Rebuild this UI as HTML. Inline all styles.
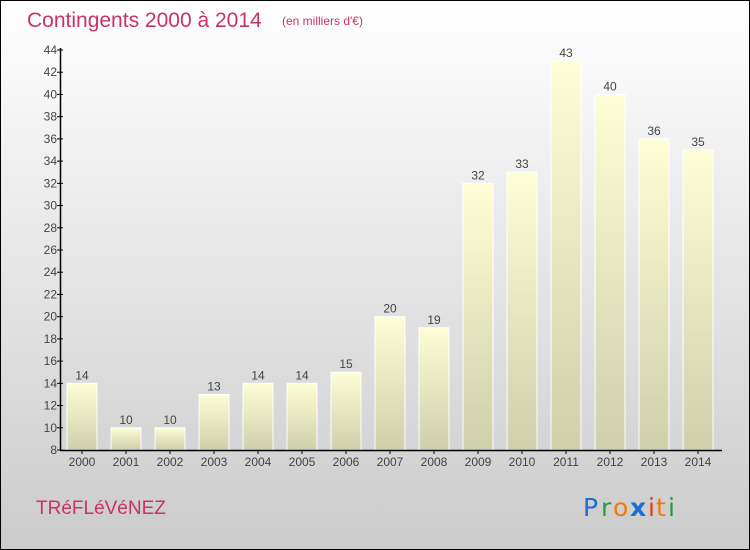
<!DOCTYPE html>
<html><head><meta charset="utf-8"><style>
body{margin:0;width:750px;height:550px;overflow:hidden}
svg{display:block;font-family:"Liberation Sans",sans-serif}
</style></head><body>
<svg width="750" height="550">
<defs>
<linearGradient id="bg" x1="0" y1="0" x2="0" y2="1"><stop offset="0" stop-color="#ffffff"/><stop offset="1" stop-color="#cbcbcb"/></linearGradient>
<linearGradient id="bar" x1="0" y1="0" x2="0" y2="1"><stop offset="0" stop-color="#fdfdd6"/><stop offset="1" stop-color="#cfcfac"/></linearGradient>
</defs>
<rect x="0.5" y="0.5" width="749" height="549" fill="url(#bg)" stroke="#000"/>
<text x="27" y="27" font-size="21" fill="#c8336a">Contingents 2000 à 2014</text>
<text x="282" y="25" font-size="12" fill="#c8336a">(en milliers d'€)</text>
<text x="36" y="514" font-size="19" fill="#c8336a">TRéFLéVéNEZ</text>
<g font-size="25" font-family="DejaVu Sans,sans-serif">
<text x="583" y="516" fill="#1a6fd0">P</text><text x="601" y="516" fill="#2a9a3a">r</text><text x="613" y="516" fill="#f07a10">o</text><text x="630" y="516" fill="#1a6fd0" font-weight="bold">x</text><text x="648" y="516" fill="#e83a10">i</text><text x="656" y="516" fill="#f07a10">t</text><text x="668" y="516" fill="#2a9a3a">i</text>
</g>
<g id="plot"></g>
</svg>
<script>
const years=["2000","2001","2002","2003","2004","2005","2006","2007","2008","2009","2010","2011","2012","2013","2014"];
const values=[14,10,10,13,14,14,15,20,19,32,33,43,40,36,35];
const yTicks=[8,10,12,14,16,18,20,22,24,26,28,30,32,34,36,38,40,42,44];
const NS="http://www.w3.org/2000/svg";
const g=document.getElementById('plot');
const y=v=>450-(v-8)*400/36;
const x=i=>82+i*44;
function mk(t,a,txt){const e=document.createElementNS(NS,t);for(const k in a)e.setAttribute(k,a[k]);if(txt!==undefined)e.textContent=txt;g.appendChild(e);return e;}
values.forEach((v,i)=>{
 const r=mk('rect',{x:x(i)-15,y:y(v),width:30,height:450-y(v),fill:'url(#bar)',stroke:'#fff','stroke-width':1});
 
 
 const t=mk('text',{x:x(i),y:y(v)-4,'text-anchor':'middle','font-size':12,fill:'#444'},String(v));
 
 
 const tk=mk('line',{x1:x(i),x2:x(i),y1:450,y2:454,stroke:'#000'});
 
 
 const xl=mk('text',{x:x(i),y:466,'text-anchor':'middle','font-size':12,fill:'#444'},years[i]);
 
 
});
yTicks.forEach(v=>{
 const l=mk('line',{x1:57,x2:63,y1:y(v),y2:y(v),stroke:'#000'});
 
 
 const t=mk('text',{x:57,y:y(v)+4,'text-anchor':'end','font-size':12,fill:'#444'},String(v));
 
 
});
const ya=mk('line',{x1:60.5,x2:60.5,y1:48,y2:450,stroke:'#000','stroke-width':1.5});


const xa=mk('line',{x1:60,x2:722,y1:450.5,y2:450.5,stroke:'#000','stroke-width':1.5});


</script>
</body></html>
